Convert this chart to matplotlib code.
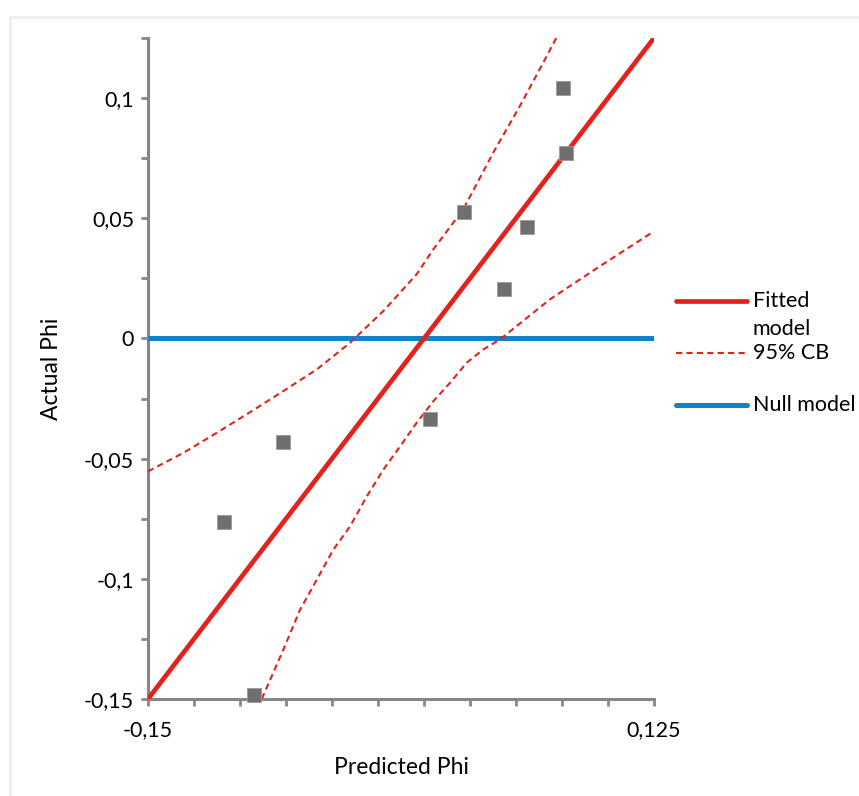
import numpy as np
import matplotlib.pyplot as plt
from matplotlib.lines import Line2D
from matplotlib.patches import Rectangle

# observed points (predicted, actual)
pred_phi = [-0.1085, -0.0924, -0.0768, 0.0033, 0.0219, 0.0437, 0.0560, 0.0757, 0.0772]
actual_phi = [-0.0764, -0.1483, -0.0431, -0.0335, 0.0528, 0.0204, 0.0465, 0.1042, 0.0770]

# fitted model and null model
fit_x = [-0.15, 0.125]
fit_y = [-0.15, 0.125]
null_x = [-0.15, 0.125]
null_y = [0.0, 0.0]

# 95% confidence bands
cb_up_x = [-0.15, -0.1308, -0.1127, -0.0946, -0.0765, -0.0583, -0.0402, -0.0221, -0.0040,
           0.0051, 0.0214, 0.0377, 0.0522, 0.0649, 0.0721]
cb_up_y = [-0.0553, -0.0476, -0.0393, -0.0307, -0.0219, -0.0129, -0.0018, 0.0114, 0.0267,
           0.0371, 0.0538, 0.0774, 0.0968, 0.1149, 0.1253]
cb_lo_x = [-0.0882, -0.0765, -0.0674, -0.0583, -0.0493, -0.0402, -0.0311, -0.0221, -0.0130,
           -0.0040, 0.0051, 0.0141, 0.0232, 0.0322, 0.0413, 0.0685, 0.0957, 0.1246]
cb_lo_y = [-0.1500, -0.1296, -0.1129, -0.1004, -0.0879, -0.0782, -0.0657, -0.0546, -0.0449,
           -0.0351, -0.0261, -0.0185, -0.0101, -0.0046, -0.0004, 0.0163, 0.0301, 0.0444]

y_ticks = [-0.15, -0.1, -0.05, 0, 0.05, 0.1]
y_labels = ['-0,15', '-0,1', '-0,05', '0', '0,05', '0,1']
x_ticks = [-0.15, 0.125]
x_labels = ['-0,15', '0,125']

red = '#e4211c'
blue = '#0f82c9'
grey = '#868686'

plt.rcParams['font.family'] = ['Lato', 'DejaVu Sans']

fig = plt.figure(figsize=(8.59, 7.96), dpi=100)
ax = fig.add_axes([148 / 859, 1 - 699 / 796, 506 / 859, 661 / 796])

# chart border
fig.add_artist(Rectangle((9.5 / 859, -0.1), 1.2, 1 - 16.5 / 796 + 0.1, transform=fig.transFigure,
                         fill=False, edgecolor='#efefef', linewidth=2.2))

ax.plot(null_x, null_y, color=blue, linewidth=3.6, solid_capstyle='butt', zorder=3)
ax.plot(fit_x, fit_y, color=red, linewidth=3.4, solid_capstyle='butt', zorder=3)
ax.plot(cb_up_x, cb_up_y, color=red, linewidth=1.5, linestyle=(0, (3, 2)), zorder=3)
ax.plot(cb_lo_x, cb_lo_y, color=red, linewidth=1.5, linestyle=(0, (3, 2)), zorder=3)
ax.scatter(pred_phi, actual_phi, marker='s', s=92, color='#6f6f6f', edgecolor='#9a9a9a',
           linewidth=0.6, zorder=4, clip_on=False)

ax.set_xlim(-0.15, 0.125)
ax.set_ylim(-0.15, 0.125)
for s in ['top', 'right']:
    ax.spines[s].set_visible(False)
for s in ['left', 'bottom']:
    ax.spines[s].set_color(grey)
    ax.spines[s].set_linewidth(2.2)

ax.set_yticks(y_ticks)
ax.set_yticklabels(y_labels)
ax.set_yticks(np.arange(-0.125, 0.13, 0.05), minor=True)
ax.set_xticks(x_ticks)
ax.set_xticklabels(x_labels)
ax.set_xticks(np.arange(-0.125, 0.12, 0.025), minor=True)
ax.tick_params(which='both', direction='out', length=5, width=2, color=grey,
               labelsize=15.5, labelcolor='black', pad=5)
ax.tick_params(axis='x', which='both', pad=10)

ax.set_xlabel('Predicted Phi', fontsize=16.5, labelpad=12)
ax.set_ylabel('Actual Phi', fontsize=16.5, labelpad=16)

# legend
lx0, lx1 = 676 / 859, 747 / 859
tx = 753 / 859
for yy, ls, lw, col in [(301, '-', 3.4, red), (353, (0, (3, 2)), 1.5, red), (405, '-', 3.6, blue)]:
    fig.add_artist(Line2D([lx0, lx1], [1 - yy / 796, 1 - yy / 796], transform=fig.transFigure,
                          color=col, linewidth=lw, linestyle=ls, solid_capstyle='round'))
fig.text(tx, 1 - 301 / 796, 'Fitted', fontsize=15.5, va='center')
fig.text(tx, 1 - 329 / 796, 'model', fontsize=15.5, va='center')
fig.text(tx, 1 - 353 / 796, '95% CB', fontsize=15.5, va='center')
fig.text(tx, 1 - 405 / 796, 'Null model', fontsize=15.5, va='center')

fig.savefig('out.png', dpi=100)
